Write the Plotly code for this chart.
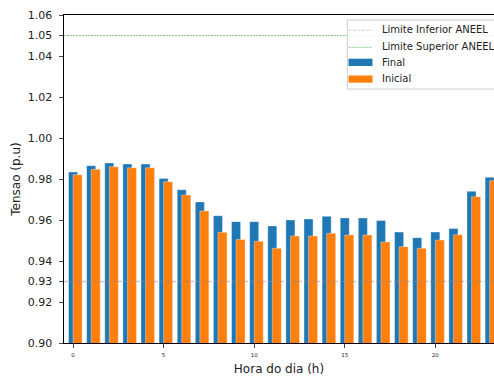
import plotly.graph_objects as go

hours = list(range(24))
final = [0.9834, 0.9865, 0.9878, 0.9873, 0.9873, 0.9803, 0.9748, 0.9688, 0.9621, 0.9592,
         0.9592, 0.9571, 0.9600, 0.9605, 0.9618, 0.9610, 0.9610, 0.9597, 0.9541, 0.9514,
         0.9541, 0.9558, 0.9740, 0.9808]
inicial = [0.9821, 0.9847, 0.9860, 0.9855, 0.9855, 0.9787, 0.9722, 0.9644, 0.9540, 0.9505,
           0.9496, 0.9462, 0.9522, 0.9522, 0.9535, 0.9527, 0.9527, 0.9493, 0.9470, 0.9462,
           0.9502, 0.9528, 0.9714, 0.9792]
lim_inf = 0.93
lim_sup = 1.05
ytick_vals = [0.90, 0.92, 0.93, 0.94, 0.96, 0.98, 1.00, 1.02, 1.04, 1.05, 1.06]
xtick_vals = [0, 5, 10, 15, 20]
legend_labels = ["Limite Inferior ANEEL", "Limite Superior ANEEL", "Final", "Inicial"]

FONT = "DejaVu Sans"
C_FINAL = "#1f77b4"
C_INI = "#ff7f0e"
C_INF = "rgba(140,140,140,0.45)"
C_SUP = "rgba(0,150,0,0.6)"

W, H = 494, 376
ML, MT, MB, MR = 64, 15, 33, 0
PW = W - ML - MR
PH = H - MT - MB


def px(x_page):
    return (x_page - ML) / PW


def py(y_page):
    return (MT + PH - y_page) / PH


fig = go.Figure()
fig.add_trace(go.Bar(x=hours, y=final, name="Final", width=0.5, offset=-0.25,
                     marker=dict(color=C_FINAL, line=dict(color="rgba(255,255,255,0.35)", width=1))))
fig.add_trace(go.Bar(x=hours, y=inicial, name="Inicial", width=0.5, offset=0.0,
                     marker=dict(color=C_INI, line=dict(color="rgba(255,255,255,0.35)", width=1))))

fig.add_shape(type="line", xref="paper", x0=0, x1=1, yref="y", y0=lim_inf, y1=lim_inf,
              line=dict(color=C_INF, width=1.5, dash="4px,2px"), layer="above")
fig.add_shape(type="line", xref="paper", x0=0, x1=1, yref="y", y0=lim_sup, y1=lim_sup,
              line=dict(color=C_SUP, width=0.8, dash="2px,1px"), layer="above")

# manual legend (matplotlib style)
fig.add_shape(type="rect", xref="paper", yref="paper", x0=px(347.3), x1=px(510),
              y0=py(89), y1=py(20), fillcolor="rgba(255,255,255,0.85)",
              line=dict(color="#cccccc", width=1), layer="above")
rows = [29.5, 46.5, 62.5, 79]
fig.add_shape(type="line", xref="paper", yref="paper", x0=px(348.5), x1=px(372.5),
              y0=py(30.3), y1=py(30.3), line=dict(color=C_INF, width=1, dash="3px,1.5px"), layer="above")
fig.add_shape(type="line", xref="paper", yref="paper", x0=px(348.5), x1=px(372.5),
              y0=py(47.3), y1=py(47.3), line=dict(color=C_SUP, width=0.8, dash="2px,1px"), layer="above")
fig.add_shape(type="rect", xref="paper", yref="paper", x0=px(348.5), x1=px(372.5),
              y0=py(66), y1=py(58.7), fillcolor=C_FINAL, line=dict(width=0), layer="above")
fig.add_shape(type="rect", xref="paper", yref="paper", x0=px(348.5), x1=px(372.5),
              y0=py(82.7), y1=py(75.5), fillcolor=C_INI, line=dict(width=0), layer="above")
for lab, r in zip(legend_labels, rows):
    fig.add_annotation(text=lab, xref="paper", yref="paper", x=px(379.5), y=py(r),
                       xanchor="left", yanchor="middle", showarrow=False,
                       font=dict(size=10, family=FONT, color="#222"))

fig.update_layout(
    width=W, height=H,
    margin=dict(l=ML, r=MR, t=MT, b=MB, autoexpand=False),
    barmode="overlay",
    plot_bgcolor="white", paper_bgcolor="white",
    font=dict(family=FONT, color="black", size=11),
    showlegend=False,
    xaxis=dict(range=[-0.5, 23.24], tickvals=xtick_vals, ticks="outside", ticklen=4,
               ticklabelstandoff=2,
               tickfont=dict(size=5.5, color="#222"), showgrid=False, zeroline=False,
               showline=True, linecolor="black", linewidth=1, mirror=True,
               title=dict(text="Hora do dia (h)", font=dict(size=12, color="#222"), standoff=11)),
    yaxis=dict(range=[0.90, 1.06], tickvals=ytick_vals,
               ticktext=[f"{v:.2f}" for v in ytick_vals], ticks="outside", ticklen=4.5,
               ticklabelstandoff=4,
               tickfont=dict(size=11, color="#222"), showgrid=False, zeroline=False,
               showline=True, linecolor="black", linewidth=1, mirror=False,
               title=dict(text="Tensao (p.u)", font=dict(size=12, color="#222"), standoff=4)),
)

fig.write_html("out.html", config={"displayModeBar": False},
               post_script="document.body.style.margin='0';document.body.style.overflow='hidden';")
